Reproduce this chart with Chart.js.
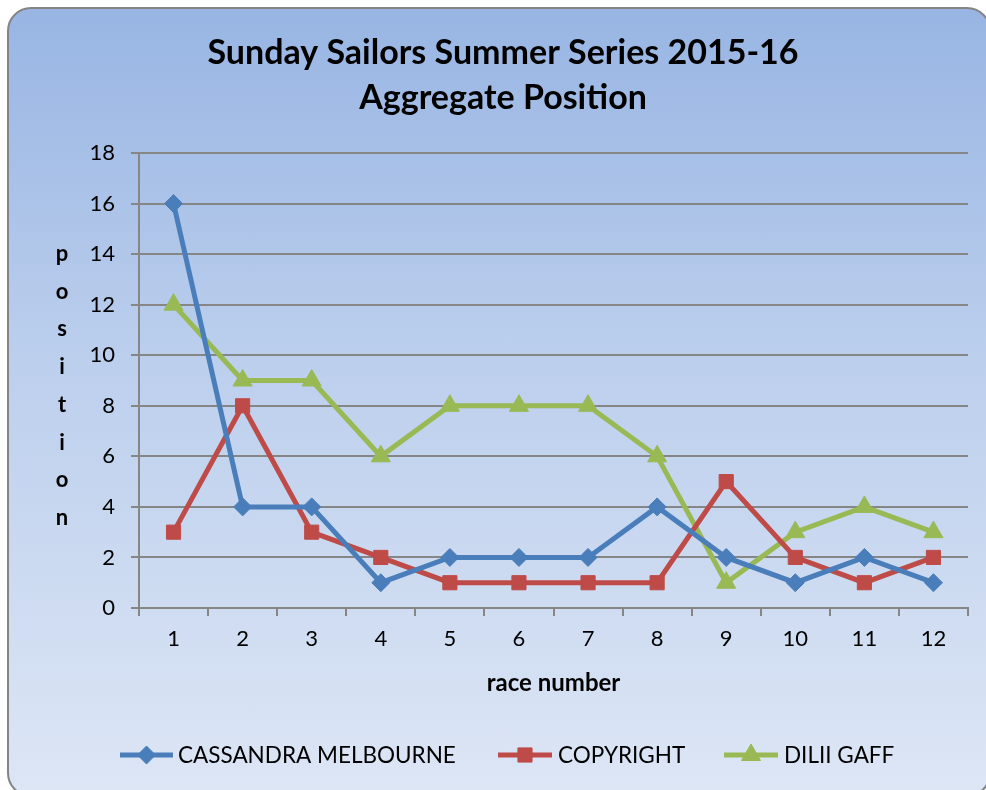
<!DOCTYPE html>
<html>
<head>
<meta charset="utf-8">
<script src="https://cdn.jsdelivr.net/npm/chart.js@4"></script>
<style>
  html, body { margin: 0; padding: 0; background: #ffffff; }
  #wrap { position: relative; width: 986px; height: 790px; overflow: hidden; }
  #frame {
    position: absolute; left: 7px; top: 7px; width: 984px; height: 790px;
    box-sizing: border-box; border: 2.5px solid #848484; border-radius: 24px;
    background: linear-gradient(to bottom, #98b5e3 0%, #bccfed 45%, #dde6f5 100%);
  }
  canvas { position: absolute; left: 0; top: 0; }
</style>
</head>
<body>
<div id="wrap">
  <div id="frame"></div>
  <canvas id="c" width="986" height="790"></canvas>
</div>
<script>
const categories = ['1','2','3','4','5','6','7','8','9','10','11','12'];
const cassandraMelbourne = [16, 4, 4, 1, 2, 2, 2, 4, 2, 1, 2, 1];
const copyright = [3, 8, 3, 2, 1, 1, 1, 1, 5, 2, 1, 2];
const diliiGaff = [12, 9, 9, 6, 8, 8, 8, 6, 1, 3, 4, 3];
const seriesNames = ['CASSANDRA MELBOURNE', 'COPYRIGHT', 'DILII GAFF'];
const titleLines = ['Sunday Sailors Summer Series 2015-16', 'Aggregate Position'];
const yAxisTitle = 'position';
const xAxisTitle = 'race number';

const FONT = 'Lato, "Open Sans", "DejaVu Sans", sans-serif';
const colors = ['#4a7ebb', '#be4b48', '#98b954'];
const styles = ['rectRot', 'rect', 'triangle'];
const radii = [9, 10, 11];

function drawMarker(ctx, i, x, y) {
  ctx.save();
  ctx.fillStyle = colors[i];
  ctx.strokeStyle = colors[i];
  ctx.lineWidth = 1;
  Chart.helpers.drawPoint(ctx, {pointStyle: styles[i], radius: radii[i], rotation: 0, borderWidth: 1}, x, y);
  ctx.restore();
}

const textPlugin = {
  id: 'texts',
  afterDraw(chart) {
    const ctx = chart.ctx;
    ctx.save();
    // title
    ctx.font = 'bold 34px ' + FONT;
    ctx.fillStyle = '#000';
    ctx.textAlign = 'center';
    ctx.textBaseline = 'middle';
    titleLines.forEach((t, i) => ctx.fillText(t, 503, 53 + i * 45));
    // y-axis title, stacked letters
    ctx.font = 'bold 22px ' + FONT;
    yAxisTitle.split('').forEach((ch, i) => ctx.fillText(ch, 62, 254 + i * 37.7));
    // legend
    const y = 755;
    const items = [
      {x0: 120, x1: 173, tx: 178},
      {x0: 498, x1: 552, tx: 558},
      {x0: 724, x1: 778, tx: 784}
    ];
    items.forEach((it, i) => {
      ctx.strokeStyle = colors[i];
      ctx.lineWidth = 5;
      ctx.lineCap = 'butt';
      ctx.beginPath();
      ctx.moveTo(it.x0, y);
      ctx.lineTo(it.x1, y);
      ctx.stroke();
      drawMarker(ctx, i, (it.x0 + it.x1) / 2, y);
      ctx.fillStyle = '#000';
      ctx.font = '22.5px ' + FONT;
      ctx.textAlign = 'left';
      ctx.textBaseline = 'middle';
      ctx.fillText(seriesNames[i], it.tx, y + 1);
    });
    ctx.restore();
  }
};

const datasets = [cassandraMelbourne, copyright, diliiGaff].map((d, i) => ({
  label: seriesNames[i],
  data: d,
  borderColor: colors[i],
  backgroundColor: colors[i],
  borderWidth: 5,
  pointStyle: styles[i],
  pointRadius: radii[i],
  pointHoverRadius: radii[i],
  pointBorderWidth: 1,
  tension: 0
}));

new Chart(document.getElementById('c'), {
  type: 'line',
  data: { labels: categories, datasets },
  options: {
    responsive: false,
    animation: false,
    events: [],
    layout: { padding: { left: 0, right: 18, top: 153, bottom: 92 } },
    plugins: {
      legend: { display: false },
      tooltip: { enabled: false },
      title: { display: false }
    },
    scales: {
      x: {
        offset: true,
        grid: { display: true, drawOnChartArea: false, offset: true, color: '#868686', lineWidth: 2, tickLength: 8 },
        border: { color: '#868686', width: 2 },
        ticks: { color: '#000', font: { family: FONT, size: 22 }, padding: 10, maxRotation: 0 },
        title: { display: true, text: xAxisTitle, color: '#000', font: { family: FONT, size: 24, weight: 'bold' }, padding: 0 },
        afterFit(scale) { scale.height = 90; }
      },
      y: {
        min: 0, max: 18,
        ticks: { stepSize: 2, color: '#000', font: { family: FONT, size: 22 }, padding: 16 },
        grid: { color: '#868686', lineWidth: 2, tickLength: 8 },
        border: { color: '#868686', width: 2 },
        afterFit(scale) { scale.width = 139; }
      }
    }
  },
  plugins: [textPlugin]
});
</script>
</body>
</html>
